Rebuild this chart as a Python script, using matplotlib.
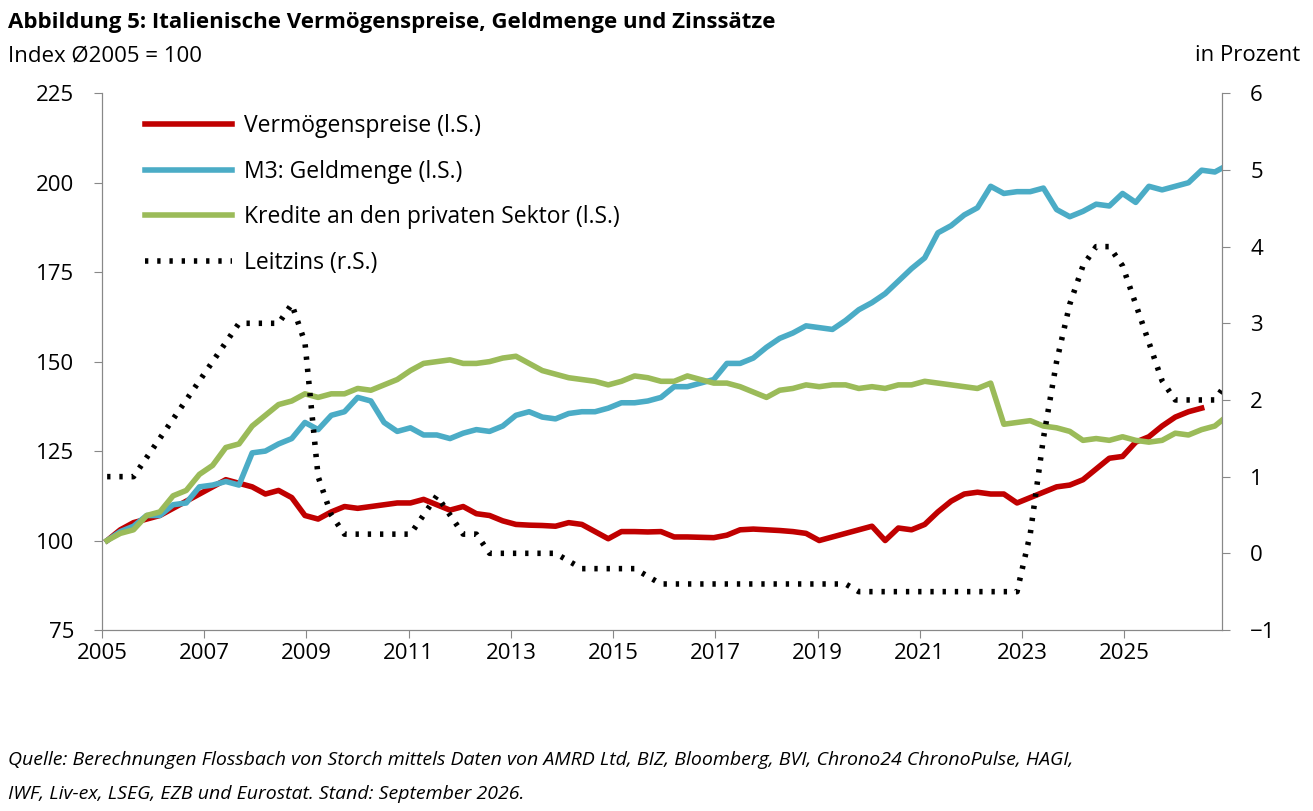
import numpy as np
import matplotlib.pyplot as plt

plt.rcParams['font.family'] = ['Open Sans', 'DejaVu Sans']

# roughly quarterly data starting early 2005
vermoegen = [100, 103, 105, 106, 107, 109, 111, 113, 115, 117, 116, 115, 113, 114, 112,
             107, 106, 108, 109.5, 109, 109.5, 110, 110.5, 110.5, 111.5, 110, 108.5,
             109.5, 107.5, 107, 105.5, 104.5, 104.3, 104.2, 104, 105, 104.5, 102.5,
             100.5, 102.5, 102.5, 102.4, 102.5, 101, 101, 100.9, 100.8, 101.5, 103,
             103.2, 103, 102.8, 102.5, 102, 100, 101, 102, 103, 104, 100, 103.5, 103,
             104.5, 108, 111, 113, 113.5, 113, 113, 110.5, 112, 113.5, 115, 115.5,
             117, 120, 123, 123.5, 127.5, 129, 132, 134.5, 136, 137]
m3 = [100, 102.5, 104, 107, 107, 110, 110.5, 115, 115.5, 116.5, 115.5, 124.5, 125, 127,
      128.5, 133, 131, 135, 136, 140, 139, 133, 130.5, 131.5, 129.5, 129.5, 128.5, 130,
      131, 130.5, 132, 135, 136, 134.5, 134, 135.5, 136, 136, 137, 138.5, 138.5, 139,
      140, 143, 143, 144, 145, 149.5, 149.5, 151, 154, 156.5, 158, 160, 159.5, 159,
      161.5, 164.5, 166.5, 169, 172.5, 176, 179, 186, 188, 191, 193, 199, 197, 197.5,
      197.5, 198.5, 192.5, 190.5, 192, 194, 193.5, 197, 194.5, 199, 198, 199, 200,
      203.5, 203, 205]
kredite = [100, 102, 103, 107, 108, 112.5, 114, 118.5, 121, 126, 127, 132, 135, 138, 139,
           141, 140, 141, 141, 142.5, 142, 143.5, 145, 147.5, 149.5, 150, 150.5, 149.5,
           149.5, 150, 151, 151.5, 149.5, 147.5, 146.5, 145.5, 145, 144.5, 143.5, 144.5,
           146, 145.5, 144.5, 144.5, 146, 145, 144, 144, 143, 141.5, 140, 142, 142.5,
           143.5, 143, 143.5, 143.5, 142.5, 143, 142.5, 143.5, 143.5, 144.5, 144, 143.5,
           143, 142.5, 144, 132.5, 133, 133.5, 132, 131.5, 130.5, 128, 128.5, 128, 129,
           128, 127.5, 128, 130, 129.5, 131, 132, 135]
leitzins = [1.0, 1.0, 1.0, 1.25, 1.5, 1.75, 2.0, 2.25, 2.5, 2.75, 3.0, 3.0, 3.0, 3.0, 3.25,
            2.75, 1.0, 0.5, 0.25, 0.25, 0.25, 0.25, 0.25, 0.25, 0.5, 0.75, 0.5, 0.25, 0.25,
            0.0, 0.0, 0.0, 0.0, 0.0, 0.0, -0.1, -0.2, -0.2, -0.2, -0.2, -0.2, -0.3, -0.4,
            -0.4, -0.4, -0.4, -0.4, -0.4, -0.4, -0.4, -0.4, -0.4, -0.4, -0.4, -0.4, -0.4,
            -0.4, -0.5, -0.5, -0.5, -0.5, -0.5, -0.5, -0.5, -0.5, -0.5, -0.5, -0.5, -0.5,
            -0.5, 0.25, 1.5, 2.5, 3.25, 3.75, 4.0, 4.0, 3.75, 3.25, 2.75, 2.25, 2.0, 2.0,
            2.0, 2.0, 2.25]

def periods(n):
    return 2005.1 + 0.258 * np.arange(n)

fig = plt.figure(figsize=(13.13, 8.11), dpi=100)
ax = fig.add_axes([0.0777, 0.2232, 0.8533, 0.6618])
ax2 = ax.twinx()

l1, = ax.plot(periods(len(vermoegen)), vermoegen, color='#C00000', lw=4)
l2, = ax.plot(periods(len(m3)), m3, color='#4BACC6', lw=4)
l3, = ax.plot(periods(len(kredite)), kredite, color='#9BBB59', lw=4)
l4, = ax2.plot(periods(len(leitzins)), leitzins, color='black', lw=4, ls=(0, (0.6, 1.6)))

ax.set_xlim(2005, 2026.92)
ax.set_ylim(75, 225)
ax2.set_ylim(-1, 6)
ax.set_xticks(range(2005, 2027, 2))
ax.set_yticks(range(75, 226, 25))
ax2.set_yticks(range(-1, 7))
for a in (ax, ax2):
    a.spines['top'].set_visible(False)
    a.tick_params(labelsize=16, color='#888888', length=6)
    for s in a.spines.values():
        s.set_color('#888888')
ax.tick_params(axis='y', pad=14)
ax2.tick_params(axis='y', pad=14)

ax.legend([l1, l2, l3, l4],
          ['Vermögenspreise (l.S.)', 'M3: Geldmenge (l.S.)',
           'Kredite an den privaten Sektor (l.S.)', 'Leitzins (r.S.)'],
          loc='upper left', bbox_to_anchor=(0.02, 1.0), frameon=False, fontsize=16.5,
          handlelength=3.8, handletextpad=0.5, labelspacing=0.95)

fig.text(0.006, 0.972, 'Abbildung 5: Italienische Vermögenspreise, Geldmenge und Zinssätze',
         fontsize=16, fontweight='bold', va='center')
fig.text(0.006, 0.931, 'Index Ø2005 = 100', fontsize=16, va='center')
fig.text(0.99, 0.931, 'in Prozent', fontsize=16, va='center', ha='right')
fig.text(0.006, 0.063, 'Quelle: Berechnungen Flossbach von Storch mittels Daten von AMRD Ltd, BIZ, '
         'Bloomberg, BVI, Chrono24 ChronoPulse, HAGI,', fontsize=14, style='italic', va='center')
fig.text(0.006, 0.021, 'IWF, Liv-ex, LSEG, EZB und Eurostat. Stand: September 2026.',
         fontsize=14, style='italic', va='center')

fig.savefig('out.png', dpi=100)
